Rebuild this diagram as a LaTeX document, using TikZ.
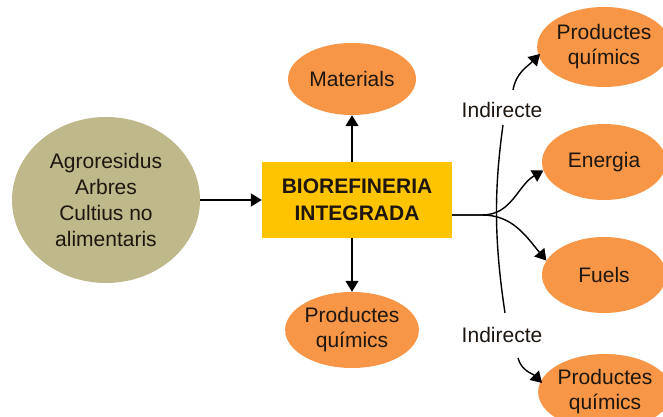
\documentclass[tikz,border=0pt]{standalone}
\usepackage{fontspec}
\setmainfont{Liberation Sans}
\usetikzlibrary{shapes.geometric,arrows.meta,calc}
\definecolor{orng}{RGB}{247,150,70}
\definecolor{gold}{RGB}{255,196,0}
\definecolor{olive}{RGB}{190,184,138}
\definecolor{txt}{RGB}{30,22,15}
\begin{document}
\begin{tikzpicture}[x=1pt,y=1pt,
  oval/.style={ellipse, fill=orng, inner sep=0pt, align=center, text=txt,
    font=\fontsize{21}{25}\selectfont},
  srcoval/.style={ellipse, fill=olive, inner sep=0pt, align=center, text=txt,
    font=\fontsize{21}{26}\selectfont},
  mainbox/.style={rectangle, fill=gold, inner sep=0pt, align=center, text=txt,
    font=\fontsize{21}{27}\selectfont\bfseries},
  lbl/.style={inner sep=0pt, font=\fontsize{21}{25}\selectfont, text=txt},
  conn/.style={line width=1.4pt, draw=black},
  arr/.style={conn, -{Triangle[length=11pt,width=13pt]}}]
\useasboundingbox (0,0) rectangle (663,417);
\fill[white] (0,0) rectangle (663,417);

\node[srcoval, minimum width=188pt, minimum height=166pt] (src) at (106,217)
  {Agroresidus\\Arbres\\Cultius no\\alimentaris};
\node[mainbox, minimum width=190pt, minimum height=76pt] (box) at (357,217)
  {BIOREFINERIA\\INTEGRADA};
\node[oval, minimum width=128pt, minimum height=72pt] (mat) at (352,338) {Materials};
\node[oval, minimum width=129pt, minimum height=76pt] (pqb) at (352,87) {Productes\\químics};
\node[oval, minimum width=124pt, minimum height=80pt] (pq1) at (604,370) {Productes\\químics};
\node[oval, minimum width=124pt, minimum height=76pt] (ener) at (604,255) {Energia};
\node[oval, minimum width=124pt, minimum height=76pt] (fuel) at (604,142) {Fuels};
\node[oval, minimum width=124pt, minimum height=76pt] (pq2) at (605,25) {Productes\\químics};

\node[lbl] (ind1) at (502,307) {Indirecte};
\node[lbl] (ind2) at (502,82) {Indirecte};

\draw[arr] (src.east |- box.west) -- (box.west);
\draw[arr] (box.north -| mat.south) -- (mat.south);
\draw[arr] (box.south -| pqb.north) -- (pqb.north);

\coordinate (fork) at ($(box.east)+(0,-15)$);
\draw[arr] (fork) -- ++(30,0) to[out=0,in=210] (ener.188);
\draw[arr] (fork) -- ++(30,0) to[out=0,in=130] (fuel.166);

\coordinate (vtop) at (503,292);
\coordinate (vbot) at (505,104);
\draw[conn] (vtop) .. controls (494,227) and (494,177) .. (vbot);

\coordinate (a1) at (513,327);
\coordinate (a1e) at (540,363);
\draw[arr] (a1) to[out=80,in=225] (a1e);
\coordinate (a2) at (518,59);
\coordinate (a2e) at (542,34);
\draw[arr] (a2) to[out=-75,in=135] (a2e);
\end{tikzpicture}
\end{document}
